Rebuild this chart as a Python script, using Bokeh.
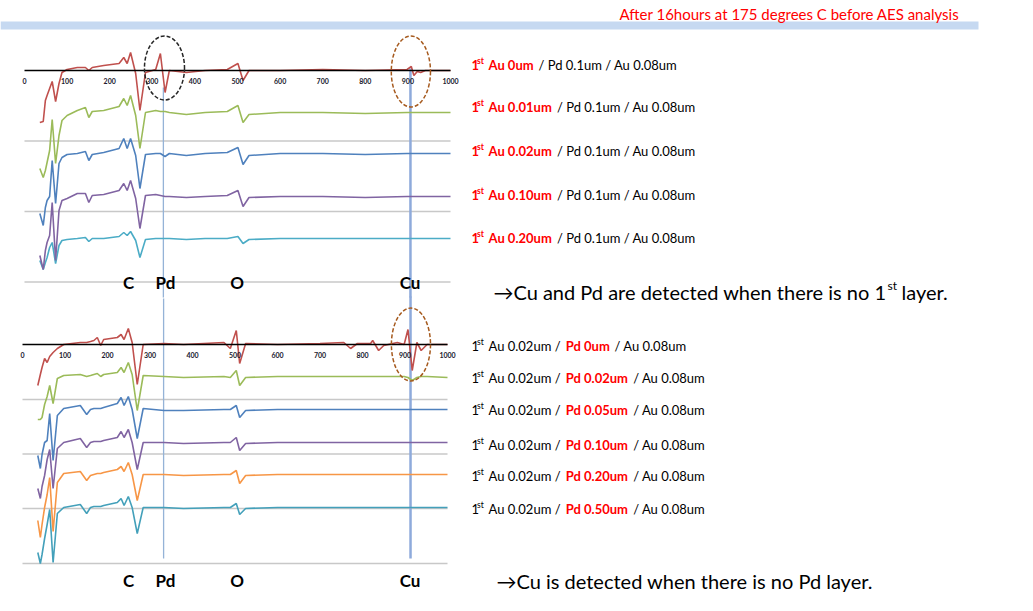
from bokeh.plotting import figure
from bokeh.models import Range1d, Label
from bokeh.embed import file_html
from bokeh.resources import INLINE
from bokeh.core.properties import value

# ---------------- data ----------------
ticks = [0, 100, 200, 300, 400, 500, 600, 700, 800, 900, 1000]
top_grid = [-70.5, -141, -211.5]
bottom_grid = [-55, -109.5, -164, -219]

# upper chart: kinetic energy (eV) and dN/dE traces (a.u., already offset)
top_E = [36, 44, 49, 53, 59, 65, 73, 81, 88, 100, 124, 143, 151, 159, 186, 222, 233, 241, 249, 261,
         271, 284, 308, 319, 330, 340, 380, 424, 476, 501, 513, 527, 600, 700, 800, 898, 908, 914, 922, 930,
         941, 1000]
top_au_0um = [-52, -51, -30, -25, -18, -11, -31, -13, -2, 1, 3, 3, 0, 3, 5, 7, 13, 7, 18, -3,
              -40, -2, 1, 17, -22, 0, -2, 0, 1, 7, -10, 0, 0, 1, 0, 1, 4, -5, -1, -2,
              0, 0]
top_au_001 = [-98, -107, -100, -92, -80, -49, -93, -65, -50, -45, -40, -37, -47, -41, -40, -36, -28, -35, -25, -45,
              -78, -42, -40, -41, -41, -42, -44, -42, -41, -35, -52, -44, -42, -42, -43, -42, -42, -42, -42, -42,
              -42, -42]
top_au_002 = [-143, -155, -137, -130, -126, -90, -133, -93, -87, -84, -83, -81, -90, -84, -82, -78, -68, -78, -68, -85,
              -118, -84, -83, -83, -86, -83, -85, -83, -82, -77, -94, -85, -83, -83, -84, -83, -83, -83, -83, -83,
              -83, -83]
top_au_010 = [-185, -199, -180, -172, -165, -132, -190, -140, -130, -128, -123, -123, -132, -125, -124, -120, -113, -120, -110, -128,
              -158, -125, -124, -125, -126, -126, -127, -126, -125, -120, -136, -127, -126, -126, -127, -126, -126, -126, -126, -126,
              -126, -126]
top_au_020 = [-190, -199, -192, -187, -177, -172, -193, -175, -170, -169, -168, -167, -171, -168, -168, -166, -162, -165, -161, -170,
              -187, -169, -168, -168, -168, -168, -169, -168, -168, -166, -173, -169, -168, -168, -168, -168, -168, -168, -168, -168,
              -168, -168]
top_first_au = ["0um", "0.01um", "0.02um", "0.10um", "0.20um"]

# lower chart
bot_E = [36, 42, 46, 52, 58, 64, 72, 82, 97, 136, 151, 160, 168, 176, 184, 191, 223, 232, 239, 249,
         258, 270, 284, 333, 379, 474, 489, 503, 511, 525, 600, 700, 756, 772, 788, 819, 824, 838, 850, 882,
         898, 907, 917, 928, 938, 952, 1000]
bot_pd_0um = [-41, -30, -23, -14, -18, -12, -8, -4, 0, 2, 2, 3, 4, 7, -1, 5, 7, 10, 5, 16,
              2, -40, 0, 1, 0, 2, -4, 14, -19, 1, 0, 1, 2, -4, 1, 1, 4, -6, -1, 2,
              0, 15, -26, 2, -6, 0, 0]
bot_pd_002 = [-75, -75, -73, -60, -52, -41, -59, -34, -31, -30, -32, -31, -30, -29, -32, -30, -28, -23, -28, -18,
              -30, -66, -31, -32, -33, -32, -33, -26, -41, -33, -32, -32, -32, -32, -32, -32, -32, -32, -32, -32,
              -32, -33, -36, -33, -32, -32, -33]
bot_pd_005 = [-111, -124, -110, -98, -96, -69, -116, -71, -64, -61, -70, -65, -64, -64, -64, -63, -59, -53, -61, -52,
              -65, -94, -64, -66, -66, -65, -65, -61, -73, -66, -65, -65, -65, -65, -65, -65, -65, -65, -65, -65,
              -65, -65, -65, -65, -65, -65, -65]
bot_pd_010 = [-144, -154, -142, -131, -115, -105, -144, -104, -98, -94, -103, -98, -97, -97, -97, -96, -93, -87, -93, -85,
              -98, -125, -98, -98, -99, -98, -98, -93, -106, -99, -98, -98, -98, -98, -98, -98, -98, -98, -98, -98,
              -98, -98, -98, -98, -98, -98, -98]
bot_pd_020 = [-176, -193, -180, -163, -150, -133, -187, -138, -129, -127, -136, -131, -130, -129, -129, -128, -125, -122, -127, -118,
              -130, -156, -130, -130, -131, -130, -130, -126, -139, -131, -130, -130, -130, -130, -130, -130, -130, -130, -130, -130,
              -130, -130, -130, -130, -130, -130, -130]
bot_pd_050 = [-208, -219, -210, -194, -180, -165, -218, -169, -163, -160, -169, -163, -162, -162, -162, -161, -158, -154, -161, -152,
              -163, -189, -163, -163, -164, -163, -163, -159, -170, -164, -163, -163, -163, -163, -163, -163, -163, -163, -163, -163,
              -163, -163, -163, -163, -163, -163, -163]
bot_pd = ["0um", "0.02um", "0.05um", "0.10um", "0.20um", "0.50um"]

# element marker lines (eV) in each chart
top_lines = {"Pd": 326, "Cu": 906}
bot_lines = {"Pd": 332, "Cu": 913}
elements = ["C", "Pd", "O", "Cu"]

top_colors = ["#C0504D", "#9BBB59", "#4F81BD", "#8064A2", "#4BACC6"]
bot_colors = ["#C0504D", "#9BBB59", "#4F81BD", "#8064A2", "#F79646", "#43A0BA"]

# ---------------- figure ----------------
W, H = 1030, 608
FONT = "Lato"
p = figure(width=W, height=H, output_backend="svg", toolbar_location=None,
           x_axis_location=None, y_axis_location=None,
           x_range=Range1d((0 - 24) / 0.426, (W - 24) / 0.426),
           y_range=Range1d(70 - H, 70),
           min_border=0, min_border_left=0, min_border_right=0, min_border_top=0, min_border_bottom=0,
           outline_line_color=None, background_fill_color="white")
p.grid.visible = False
p.extra_x_ranges = {"bx": Range1d((0 - 22) / 0.425, (W - 22) / 0.425)}
p.extra_y_ranges = {"by": Range1d(344 - H, 344)}
BOT = dict(x_range_name="bx", y_range_name="by")


def ex(px):
    return (px - 24) / 0.426


def lab(x, y, text, size=13, color="black", bold=False, align="left", font=FONT):
    p.add_layout(Label(x=x, y=H - y, x_units="screen", y_units="screen", text=text,
                       text_font=font, text_font_size=f"{size}px", text_color=color,
                       text_font_style="bold" if bold else "normal",
                       text_align=align, text_baseline="middle"))


# header bar + title
p.quad(left=ex(0), right=ex(978), top=70 - 21, bottom=70 - 29, fill_color="#C6D9F1", line_color=None)
lab(619, 13, "After 16hours at 175 degrees C before AES analysis", size=15, color="#FF0000")

# grid lines
for g in top_grid:
    p.line(x=[ticks[0], ticks[-1]], y=[g, g], line_color="#C8C8C8", line_width=1.3)
for g in bottom_grid:
    p.line(x=[ticks[0], ticks[-1]], y=[g, g], line_color="#C8C8C8", line_width=1.3, **BOT)

# vertical marker lines
p.line(x=[top_lines["Pd"]] * 2, y=[-17, -227], line_color="#95B3D7", line_width=1.3)
p.line(x=[top_lines["Cu"]] * 2, y=[2, -227], line_color="#8EAADB", line_width=2.5)
p.line(x=[bot_lines["Pd"]] * 2, y=[46, -214], line_color="#95B3D7", line_width=1.3, **BOT)
p.line(x=[bot_lines["Cu"]] * 2, y=[48, -214], line_color="#8EAADB", line_width=2.5, **BOT)

# spectra
top_series = [top_au_0um, top_au_001, top_au_002, top_au_010, top_au_020]
for ys, c in zip(top_series[::-1], top_colors[::-1]):
    p.line(x=top_E, y=ys, line_color=c, line_width=1.6)
bot_series = [bot_pd_0um, bot_pd_002, bot_pd_005, bot_pd_010, bot_pd_020, bot_pd_050]
for ys, c in zip(bot_series[::-1], bot_colors[::-1]):
    p.line(x=bot_E, y=ys, line_color=c, line_width=1.6, **BOT)

# axis lines and tick labels
p.line(x=[ticks[0], ticks[-1]], y=[0, 0], line_color="black", line_width=1.3)
p.line(x=[ticks[0], ticks[-1]], y=[0, 0], line_color="black", line_width=1.3, **BOT)
p.text(x=ticks, y=[0] * len(ticks), text=[str(t) for t in ticks], y_offset=10,
       text_font=value(FONT), text_font_size="7px", text_font_style="bold", text_color="#1a1a2e",
       text_align="center", text_baseline="middle")
p.text(x=ticks, y=[0] * len(ticks), text=[str(t) for t in ticks], y_offset=10,
       text_font=value(FONT), text_font_size="7px", text_font_style="bold", text_color="#1a1a2e",
       text_align="center", text_baseline="middle", **BOT)

# dashed ellipses
p.ellipse(x=[328.6], y=[2.5], width=[94], height=[64], fill_color=None,
          line_color="#262626", line_dash="4 2", line_width=1.5)
p.ellipse(x=[907], y=[-1], width=[92], height=[71], fill_color=None,
          line_color="#A65A1E", line_dash="4 2", line_width=1.5)
p.ellipse(x=[914], y=[0], width=[92], height=[73], fill_color=None,
          line_color="#A65A1E", line_dash="4 2", line_width=1.5, **BOT)

# element labels under each chart
el_x = [128, 165, 236.5, 409.5]
for yy in (282, 580):
    for e, x in zip(elements, el_x):
        lab(x, yy, e, size=17, bold=True, align="center")

# legend rows, upper chart
top_rows_y = [64, 106.5, 150, 194, 237.5]
for t, yy in zip(top_first_au, top_rows_y):
    lab(471, yy, "1", size=13, color="#FF0000", bold=True)
    lab(476.5, yy - 4, "st", size=8.5, color="#FF0000", bold=True)
    lab(488, yy, "Au " + t, size=13, color="#FF0000", bold=True)
    lab(538 if t == "0um" else 556.5, yy, "/ Pd 0.1um / Au 0.08um", size=13)

# legend rows, lower chart
bot_rows_y = [345, 377, 409.5, 444, 475, 508]
for t, yy in zip(bot_pd, bot_rows_y):
    lab(471, yy, "1", size=13)
    lab(476.5, yy - 4, "st", size=8.5)
    lab(488, yy, "Au 0.02um /", size=13)
    lab(565.3, yy, "Pd " + t, size=13, color="#FF0000", bold=True)
    lab(614 if t == "0um" else 632.7, yy, "/ Au 0.08um", size=13)

# conclusions
lab(886, 291, "\u2192Cu and Pd are detected when there is no 1", size=20, align="right")
lab(887, 285, "st", size=12)
lab(901, 291, " layer.", size=20)
lab(496, 580, "\u2192Cu is detected when there is no Pd layer.", size=20)

open("out.html", "w").write(file_html(p, INLINE))
